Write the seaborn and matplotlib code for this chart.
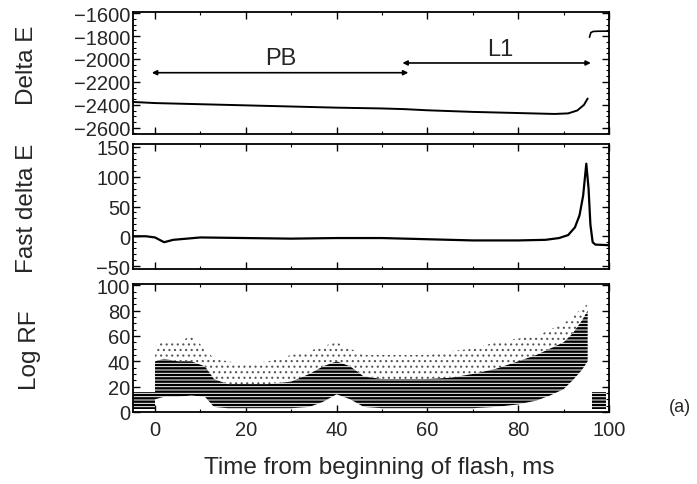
import numpy as np
import pandas as pd
import matplotlib
matplotlib.use("Agg")
import matplotlib.pyplot as plt
from matplotlib.ticker import MultipleLocator
import seaborn as sns

# ---------------- data ----------------
# Top panel: Delta E
de_time = [-5, 0, 10, 20, 30, 40, 50, 55, 60, 70, 80, 88, 91, 93, 94.5, 95.3]
de_value = [-2375, -2385, -2395, -2405, -2415, -2425, -2432, -2438, -2448,
            -2462, -2472, -2480, -2475, -2450, -2400, -2345]
# short trace at the right edge after the flash
de_tail_time = [95.7, 96.0, 96.5, 97.5, 100]
de_tail_value = [-1810, -1770, -1760, -1758, -1757]

# phase annotations
phase_names = ["PB", "L1"]
phase_start = [-0.7, 54.5]
phase_end = [55.8, 96.0]
phase_level = [-2120, -2035]
phase_label_x = [27.6, 76.0]
phase_label_y = [-1990, -1910]

# Middle panel: Fast delta E
fde_time = [-5, -2, 0, 1, 2, 4, 7, 10, 20, 30, 40, 50, 60, 70, 80, 86, 89,
            91, 92.5, 93.5, 94.3, 95, 95.5, 95.9, 96.4, 97, 100]
fde_value = [0, 0, -2, -6, -10, -6, -4, -2, -3, -4, -3, -3, -5, -7, -7, -6,
             -3, 2, 15, 35, 68, 122, 80, 20, -10, -14, -15]

# Bottom panel: Log RF, envelope of the dense banded point cloud
rf_pre_time = [-4.85, 0.0]
rf_pre_low = [2, 2]
rf_pre_high = [16, 16]

rf_time = [0, 2, 5, 8, 11, 13, 16, 20, 25, 30, 34, 37, 40, 43, 46, 50, 55,
           60, 65, 70, 75, 80, 84, 87, 90, 92, 94, 95.3]
rf_low = [10, 12, 12, 13, 12, 4, 3, 3, 3, 3, 4, 8, 14, 10, 4, 3, 3, 3, 3, 3,
          4, 6, 9, 13, 18, 25, 33, 40]
rf_high = [40, 42, 40, 40, 36, 26, 22, 22, 22, 24, 30, 36, 40, 36, 28, 26,
           26, 26, 27, 30, 34, 40, 45, 50, 55, 62, 72, 80]
rf_sparse_high = [52, 56, 55, 60, 50, 42, 40, 38, 40, 45, 48, 52, 55, 50, 45,
                  45, 45, 45, 48, 50, 55, 58, 60, 65, 70, 75, 82, 85]

rf_post_time = [96.2, 99.3]
rf_post_low = [2, 2]
rf_post_high = [16, 16]

x_ticks = [0, 20, 40, 60, 80, 100]

# ---------------- styling ----------------
sns.set_theme(style="ticks")
plt.rcParams["font.family"] = ["Liberation Sans", "DejaVu Sans"]
plt.rcParams["hatch.linewidth"] = 1.7
plt.rcParams["xtick.direction"] = "in"
plt.rcParams["ytick.direction"] = "in"

W, H = 697, 485
fig = plt.figure(figsize=(W / 100, H / 100), dpi=100)

left, right = 133 / W, 609 / W
def box(top_px, bottom_px):
    return [left, 1 - bottom_px / H, right - left, (bottom_px - top_px) / H]

ax1 = fig.add_axes(box(13, 135))
ax2 = fig.add_axes(box(145, 270))
ax3 = fig.add_axes(box(285, 413))

xlim = (-4.85, 100)
tick_fs = 14.5
label_fs = 17.5

for ax in (ax1, ax2, ax3):
    ax.set_xlim(*xlim)
    ax.xaxis.set_major_locator(MultipleLocator(20))
    ax.xaxis.set_minor_locator(MultipleLocator(10))
    ax.tick_params(which="both", top=True, right=True, bottom=True, left=True,
                   direction="in", color="black")
    ax.tick_params(which="major", length=5, width=1.0)
    ax.tick_params(which="minor", length=2.5, width=0.8)
    ax.tick_params(axis="both", labelsize=tick_fs, pad=2)
    for s in ax.spines.values():
        s.set_linewidth(1.3)
        s.set_color("black")

# ---- top panel ----
df_de = pd.DataFrame({"t": de_time, "v": de_value})
sns.lineplot(data=df_de, x="t", y="v", ax=ax1, color="black", lw=1.4)
df_tail = pd.DataFrame({"t": de_tail_time, "v": de_tail_value})
sns.lineplot(data=df_tail, x="t", y="v", ax=ax1, color="black", lw=1.2)
for name, s, e, lv, lx, ly in zip(phase_names, phase_start, phase_end,
                                  phase_level, phase_label_x, phase_label_y):
    ax1.annotate("", xy=(e, lv), xytext=(s, lv),
                 arrowprops=dict(arrowstyle="<|-|>", color="black", lw=1.2,
                                 mutation_scale=7, shrinkA=0, shrinkB=0))
    ax1.text(lx, ly, name, ha="center", va="center", fontsize=17)
ax1.set_ylim(-2655, -1590)
ax1.yaxis.set_major_locator(MultipleLocator(200))
ax1.yaxis.set_minor_locator(MultipleLocator(50))
ax1.tick_params(axis="x", labelbottom=False)
ax1.set_xlabel("")
ax1.set_ylabel("")

# ---- middle panel ----
df_fde = pd.DataFrame({"t": fde_time, "v": fde_value})
sns.lineplot(data=df_fde, x="t", y="v", ax=ax2, color="black", lw=1.6)
ax2.set_ylim(-55, 155)
ax2.yaxis.set_major_locator(MultipleLocator(50))
ax2.yaxis.set_minor_locator(MultipleLocator(10))
ax2.tick_params(axis="x", labelbottom=False)
ax2.set_xlabel("")
ax2.set_ylabel("")

# ---- bottom panel ----
with plt.rc_context({"hatch.linewidth": 0.8}):
    ax3.fill_between(rf_time, rf_high, rf_sparse_high, facecolor="white",
                     edgecolor="#555555", hatch="...", linewidth=0)
for tt, lo, hi in [(rf_pre_time, rf_pre_low, rf_pre_high),
                   (rf_time, rf_low, rf_high),
                   (rf_post_time, rf_post_low, rf_post_high)]:
    ax3.fill_between(tt, lo, hi, facecolor="white", edgecolor="black",
                     hatch="-----", linewidth=0)
ax3.set_ylim(0, 101)
ax3.yaxis.set_major_locator(MultipleLocator(20))
ax3.yaxis.set_minor_locator(MultipleLocator(5))
ax3.set_xticks(x_ticks)
ax3.set_xlim(*xlim)
ax3.tick_params(axis="x", pad=6)
ax3.set_xlabel("")
ax3.set_ylabel("")

# labels
fig.text(27 / W, 1 - 65 / H, "Delta E", rotation=90, ha="center", va="center",
         fontsize=label_fs)
fig.text(27 / W, 1 - 208 / H, "Fast delta E", rotation=90, ha="center",
         va="center", fontsize=label_fs)
fig.text(30 / W, 1 - 350 / H, "Log RF", rotation=90, ha="center", va="center",
         fontsize=label_fs)
fig.text(379 / W, 1 - 468 / H, "Time from beginning of flash, ms",
         ha="center", va="center", fontsize=label_fs)
fig.text(680 / W, 1 - 408 / H, "(a)", ha="center", va="center", fontsize=13)

fig.savefig("out.png", dpi=100)
